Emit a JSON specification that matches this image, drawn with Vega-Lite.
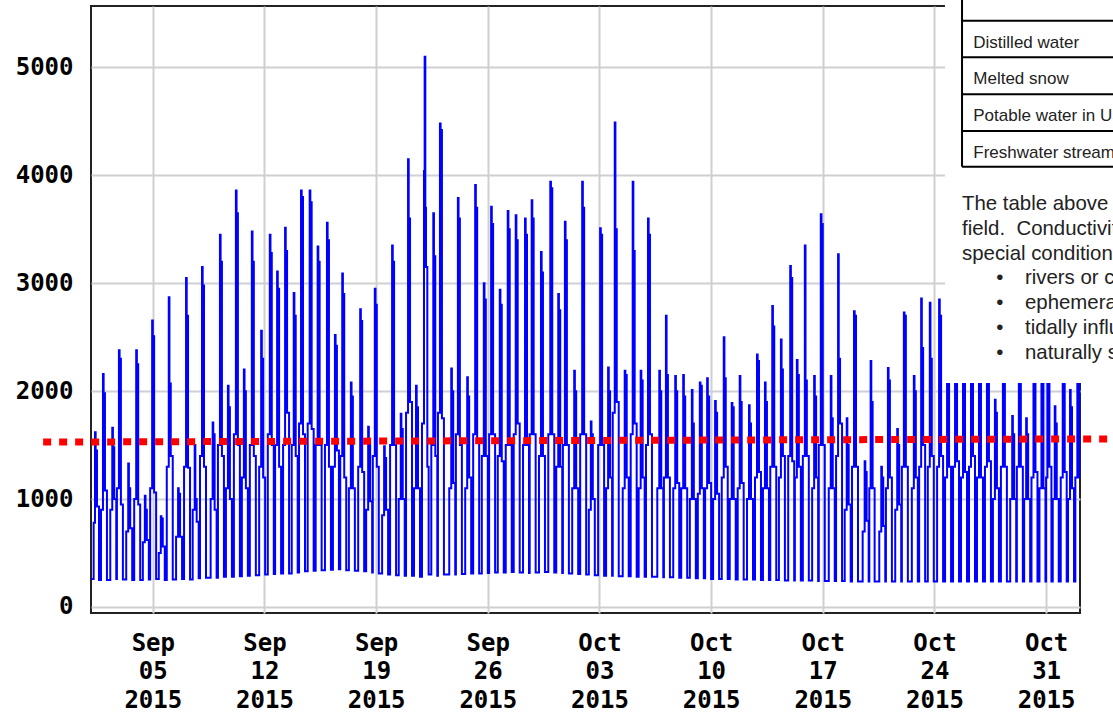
{
"$schema": "https://vega.github.io/schema/vega-lite/v6.json",
"width": 989, "height": 607,
"autosize": {"type": "none"},
"padding": {"left": 91, "top": 6, "right": 33, "bottom": 100},
"background": "white",
"config": {
  "view": {"stroke": "#222222", "strokeWidth": 2},
  "axis": {"grid": true, "gridColor": "#d0d0d0", "gridWidth": 2, "ticks": false, "domain": false, "labelFont": "DejaVu Sans Mono", "labelFontWeight": "bold", "labelFontSize": 24, "labelColor": "#000000"}
},
"layer": [
{
 "data": {"values": [
{"t":"15090100","v":260},{"t":"15090107","v":780},
{"t":"15090109","v":1620},{"t":"15090110","v":1450},{"t":"15090112","v":930},{"t":"15090115","v":250},
{"t":"15090118","v":900},{"t":"15090121","v":2160},{"t":"15090122","v":1980},{"t":"15090200","v":1080},{"t":"15090203","v":250},
{"t":"15090208","v":900},{"t":"15090211","v":1660},{"t":"15090212","v":1480},{"t":"15090214","v":1000},{"t":"15090217","v":260},
{"t":"15090218","v":1100},{"t":"15090221","v":2380},{"t":"15090222","v":2300},{"t":"15090300","v":950},{"t":"15090303","v":255},
{"t":"15090308","v":700},{"t":"15090311","v":1330},{"t":"15090312","v":1100},{"t":"15090314","v":730},{"t":"15090317","v":250},
{"t":"15090320","v":1000},{"t":"15090323","v":2380},{"t":"15090400","v":2250},{"t":"15090402","v":950},{"t":"15090405","v":250},
{"t":"15090409","v":600},{"t":"15090412","v":1030},{"t":"15090413","v":900},{"t":"15090415","v":620},{"t":"15090418","v":255},
{"t":"15090420","v":1100},{"t":"15090423","v":2655},{"t":"15090500","v":2510},{"t":"15090502","v":1060},{"t":"15090505","v":260},
{"t":"15090509","v":500},{"t":"15090512","v":840},{"t":"15090513","v":820},{"t":"15090515","v":560},{"t":"15090518","v":250},
{"t":"15090521","v":1300},{"t":"15090600","v":2870},{"t":"15090601","v":2070},{"t":"15090603","v":1400},{"t":"15090606","v":255},
{"t":"15090611","v":650},{"t":"15090614","v":1100},{"t":"15090615","v":1050},{"t":"15090617","v":650},{"t":"15090620","v":260},
{"t":"15090623","v":1300},{"t":"15090702","v":3050},{"t":"15090703","v":2700},{"t":"15090705","v":1290},{"t":"15090708","v":255},
{"t":"15090712","v":900},{"t":"15090715","v":1500},{"t":"15090716","v":1000},{"t":"15090718","v":790},{"t":"15090721","v":265},
{"t":"15090723","v":1400},{"t":"15090802","v":3150},{"t":"15090803","v":2980},{"t":"15090805","v":1300},{"t":"15090808","v":270},
{"t":"15090815","v":1000},{"t":"15090818","v":1710},{"t":"15090819","v":1600},{"t":"15090821","v":900},{"t":"15090900","v":270},
{"t":"15090902","v":1500},{"t":"15090905","v":3450},{"t":"15090906","v":3200},{"t":"15090908","v":1400},{"t":"15090911","v":280},
{"t":"15090914","v":1100},{"t":"15090917","v":2050},{"t":"15090918","v":1850},{"t":"15090920","v":1000},{"t":"15090923","v":280},
{"t":"15091002","v":1600},{"t":"15091005","v":3860},{"t":"15091006","v":3650},{"t":"15091008","v":1500},{"t":"15091011","v":285},
{"t":"15091014","v":1200},{"t":"15091017","v":2200},{"t":"15091018","v":2000},{"t":"15091020","v":1100},{"t":"15091023","v":290},
{"t":"15091102","v":1500},{"t":"15091105","v":3480},{"t":"15091106","v":3200},{"t":"15091108","v":1400},{"t":"15091111","v":295},
{"t":"15091116","v":1300},{"t":"15091119","v":2560},{"t":"15091120","v":2300},{"t":"15091122","v":1200},{"t":"15091201","v":300},
{"t":"15091205","v":1600},{"t":"15091208","v":3450},{"t":"15091209","v":3280},{"t":"15091211","v":1500},{"t":"15091214","v":305},
{"t":"15091216","v":1500},{"t":"15091219","v":3110},{"t":"15091220","v":2950},{"t":"15091222","v":1300},{"t":"15091301","v":310},
{"t":"15091304","v":1500},{"t":"15091307","v":3515},{"t":"15091308","v":3300},{"t":"15091310","v":1800},{"t":"15091313","v":310},
{"t":"15091317","v":1500},{"t":"15091320","v":2910},{"t":"15091321","v":2700},{"t":"15091323","v":1400},{"t":"15091402","v":320},
{"t":"15091404","v":1700},{"t":"15091407","v":3860},{"t":"15091408","v":3800},{"t":"15091410","v":1600},{"t":"15091413","v":330},
{"t":"15091417","v":1700},{"t":"15091420","v":3860},{"t":"15091421","v":3750},{"t":"15091423","v":1650},{"t":"15091502","v":335},
{"t":"15091505","v":1500},{"t":"15091508","v":3340},{"t":"15091509","v":3200},{"t":"15091511","v":1500},{"t":"15091514","v":340},
{"t":"15091519","v":1500},{"t":"15091522","v":3560},{"t":"15091523","v":3400},{"t":"15091601","v":1300},{"t":"15091604","v":345},
{"t":"15091607","v":1300},{"t":"15091610","v":2520},{"t":"15091611","v":2420},{"t":"15091613","v":1450},{"t":"15091616","v":350},
{"t":"15091618","v":1400},{"t":"15091621","v":3090},{"t":"15091622","v":2900},{"t":"15091700","v":1200},{"t":"15091703","v":340},
{"t":"15091707","v":1100},{"t":"15091710","v":2080},{"t":"15091711","v":1950},{"t":"15091713","v":1100},{"t":"15091716","v":335},
{"t":"15091721","v":1300},{"t":"15091800","v":2760},{"t":"15091801","v":2650},{"t":"15091803","v":1250},{"t":"15091806","v":330},
{"t":"15091809","v":900},{"t":"15091812","v":1670},{"t":"15091813","v":1500},{"t":"15091815","v":980},{"t":"15091818","v":320},
{"t":"15091819","v":1400},{"t":"15091822","v":2950},{"t":"15091823","v":2800},{"t":"15091901","v":1300},{"t":"15091904","v":310},
{"t":"15091909","v":850},{"t":"15091912","v":1490},{"t":"15091913","v":1380},{"t":"15091915","v":900},{"t":"15091918","v":300},
{"t":"15091921","v":1500},{"t":"15092000","v":3350},{"t":"15092001","v":3200},{"t":"15092003","v":1500},{"t":"15092006","v":295},
{"t":"15092010","v":1000},{"t":"15092013","v":1790},{"t":"15092014","v":1650},{"t":"15092016","v":1000},{"t":"15092019","v":290},
{"t":"15092021","v":1800},{"t":"15092100","v":4150},{"t":"15092101","v":3600},{"t":"15092103","v":1900},{"t":"15092106","v":290},
{"t":"15092109","v":1100},{"t":"15092112","v":2050},{"t":"15092113","v":1850},{"t":"15092115","v":1100},{"t":"15092118","v":280},
{"t":"15092121","v":1700},{"t":"15092200","v":4040},{"t":"15092201","v":5100},{"t":"15092202","v":3700},{"t":"15092203","v":3150},{"t":"15092205","v":1300},{"t":"15092207","v":300},
{"t":"15092211","v":1500},{"t":"15092214","v":3650},{"t":"15092215","v":3250},{"t":"15092217","v":1400},{"t":"15092220","v":290},
{"t":"15092221","v":1800},{"t":"15092300","v":4480},{"t":"15092301","v":4420},{"t":"15092303","v":1750},{"t":"15092306","v":300},
{"t":"15092314","v":1100},{"t":"15092317","v":2210},{"t":"15092318","v":2000},{"t":"15092320","v":1150},{"t":"15092323","v":300},
{"t":"15092400","v":1600},{"t":"15092403","v":3790},{"t":"15092404","v":3600},{"t":"15092406","v":1500},{"t":"15092409","v":305},
{"t":"15092414","v":1100},{"t":"15092417","v":2130},{"t":"15092418","v":1950},{"t":"15092420","v":1200},{"t":"15092423","v":310},
{"t":"15092502","v":1600},{"t":"15092505","v":3910},{"t":"15092506","v":3700},{"t":"15092508","v":1550},{"t":"15092511","v":310},
{"t":"15092515","v":1400},{"t":"15092518","v":3000},{"t":"15092519","v":2850},{"t":"15092521","v":1400},{"t":"15092600","v":315},
{"t":"15092602","v":1600},{"t":"15092605","v":3710},{"t":"15092606","v":3550},{"t":"15092608","v":1600},{"t":"15092611","v":320},
{"t":"15092615","v":1400},{"t":"15092618","v":2940},{"t":"15092619","v":2800},{"t":"15092621","v":1350},{"t":"15092700","v":320},
{"t":"15092703","v":1500},{"t":"15092706","v":3670},{"t":"15092707","v":3500},{"t":"15092709","v":1500},{"t":"15092712","v":325},
{"t":"15092715","v":1600},{"t":"15092718","v":3630},{"t":"15092719","v":3400},{"t":"15092721","v":1700},{"t":"15092800","v":320},
{"t":"15092805","v":1500},{"t":"15092808","v":3600},{"t":"15092809","v":3450},{"t":"15092811","v":1500},{"t":"15092814","v":315},
{"t":"15092815","v":1600},{"t":"15092818","v":3770},{"t":"15092819","v":3600},{"t":"15092821","v":1600},{"t":"15092900","v":320},
{"t":"15092905","v":1400},{"t":"15092908","v":3290},{"t":"15092909","v":3100},{"t":"15092911","v":1400},{"t":"15092914","v":325},
{"t":"15092919","v":1600},{"t":"15092922","v":3940},{"t":"15092923","v":3880},{"t":"15093001","v":1600},{"t":"15093004","v":320},
{"t":"15093007","v":1300},{"t":"15093010","v":2900},{"t":"15093011","v":2750},{"t":"15093013","v":1300},{"t":"15093016","v":315},
{"t":"15093017","v":1500},{"t":"15093020","v":3570},{"t":"15093021","v":3400},{"t":"15093023","v":1500},{"t":"15100102","v":310},
{"t":"15100107","v":1100},{"t":"15100110","v":2190},{"t":"15100111","v":2000},{"t":"15100113","v":1100},{"t":"15100116","v":305},
{"t":"15100119","v":1600},{"t":"15100122","v":3940},{"t":"15100123","v":3700},{"t":"15100201","v":1600},{"t":"15100204","v":300},
{"t":"15100208","v":900},{"t":"15100211","v":1720},{"t":"15100212","v":1600},{"t":"15100214","v":1000},{"t":"15100217","v":295},
{"t":"15100222","v":1500},{"t":"15100301","v":3510},{"t":"15100302","v":3450},{"t":"15100304","v":1500},{"t":"15100307","v":290},
{"t":"15100310","v":1100},{"t":"15100313","v":2220},{"t":"15100314","v":2000},{"t":"15100316","v":1200},{"t":"15100319","v":290},
{"t":"15100320","v":1800},{"t":"15100323","v":4490},{"t":"15100400","v":3500},{"t":"15100402","v":1900},{"t":"15100405","v":285},
{"t":"15100411","v":1100},{"t":"15100414","v":2190},{"t":"15100415","v":2150},{"t":"15100417","v":1200},{"t":"15100420","v":285},
{"t":"15100423","v":1600},{"t":"15100502","v":3940},{"t":"15100503","v":3300},{"t":"15100505","v":1700},{"t":"15100508","v":280},
{"t":"15100511","v":1100},{"t":"15100514","v":2190},{"t":"15100515","v":2100},{"t":"15100517","v":1200},{"t":"15100520","v":280},
{"t":"15100522","v":1500},{"t":"15100601","v":3600},{"t":"15100602","v":3450},{"t":"15100604","v":1600},{"t":"15100607","v":280},
{"t":"15100615","v":1100},{"t":"15100618","v":2190},{"t":"15100619","v":2000},{"t":"15100621","v":1100},{"t":"15100700","v":275},
{"t":"15100701","v":1200},{"t":"15100704","v":2700},{"t":"15100705","v":2150},{"t":"15100707","v":1200},{"t":"15100710","v":275},
{"t":"15100715","v":1100},{"t":"15100718","v":2140},{"t":"15100719","v":2000},{"t":"15100721","v":1150},{"t":"15100800","v":270},
{"t":"15100803","v":1100},{"t":"15100806","v":2150},{"t":"15100807","v":1950},{"t":"15100809","v":1100},{"t":"15100812","v":270},
{"t":"15100816","v":1000},{"t":"15100819","v":2010},{"t":"15100820","v":1700},{"t":"15100822","v":1000},{"t":"15100901","v":265},
{"t":"15100904","v":1050},{"t":"15100907","v":2080},{"t":"15100908","v":2050},{"t":"15100910","v":1100},{"t":"15100913","v":265},
{"t":"15100915","v":1100},{"t":"15100918","v":2120},{"t":"15100919","v":1950},{"t":"15100921","v":1150},{"t":"15101000","v":260},
{"t":"15101003","v":1000},{"t":"15101006","v":1910},{"t":"15101007","v":1800},{"t":"15101009","v":1050},{"t":"15101012","v":260},
{"t":"15101016","v":1200},{"t":"15101019","v":2500},{"t":"15101020","v":2120},{"t":"15101022","v":1300},{"t":"15101101","v":260},
{"t":"15101104","v":1000},{"t":"15101107","v":1890},{"t":"15101108","v":1850},{"t":"15101110","v":1000},{"t":"15101113","v":255},
{"t":"15101116","v":1100},{"t":"15101119","v":2140},{"t":"15101120","v":1900},{"t":"15101122","v":1150},{"t":"15101201","v":255},
{"t":"15101206","v":1000},{"t":"15101209","v":1870},{"t":"15101210","v":1700},{"t":"15101212","v":1000},{"t":"15101215","v":255},
{"t":"15101218","v":1200},{"t":"15101221","v":2340},{"t":"15101222","v":2280},{"t":"15101300","v":1250},{"t":"15101303","v":250},
{"t":"15101306","v":1100},{"t":"15101309","v":2080},{"t":"15101310","v":1900},{"t":"15101312","v":1100},{"t":"15101315","v":250},
{"t":"15101317","v":1300},{"t":"15101320","v":2790},{"t":"15101321","v":2600},{"t":"15101323","v":1300},{"t":"15101402","v":250},
{"t":"15101406","v":1200},{"t":"15101409","v":2480},{"t":"15101410","v":2200},{"t":"15101412","v":1400},{"t":"15101415","v":245},
{"t":"15101420","v":1400},{"t":"15101423","v":3160},{"t":"15101500","v":3050},{"t":"15101502","v":1350},{"t":"15101505","v":245},
{"t":"15101506","v":1200},{"t":"15101509","v":2290},{"t":"15101510","v":2150},{"t":"15101512","v":1300},{"t":"15101515","v":245},
{"t":"15101518","v":1400},{"t":"15101521","v":3350},{"t":"15101522","v":2100},{"t":"15101600","v":1400},{"t":"15101603","v":245},
{"t":"15101608","v":1100},{"t":"15101611","v":2140},{"t":"15101612","v":1950},{"t":"15101614","v":1200},{"t":"15101617","v":240},
{"t":"15101618","v":1500},{"t":"15101621","v":3640},{"t":"15101622","v":3550},{"t":"15101700","v":1500},{"t":"15101703","v":240},
{"t":"15101709","v":1100},{"t":"15101712","v":2140},{"t":"15101713","v":1750},{"t":"15101715","v":1100},{"t":"15101718","v":240},
{"t":"15101720","v":1400},{"t":"15101723","v":3270},{"t":"15101800","v":2300},{"t":"15101802","v":1700},{"t":"15101805","v":240},
{"t":"15101809","v":900},{"t":"15101812","v":1750},{"t":"15101813","v":1500},{"t":"15101815","v":950},{"t":"15101818","v":235},
{"t":"15101820","v":1300},{"t":"15101823","v":2740},{"t":"15101900","v":2700},{"t":"15101902","v":1300},{"t":"15101905","v":235},
{"t":"15101912","v":700},{"t":"15101915","v":1350},{"t":"15101916","v":1250},{"t":"15101918","v":800},{"t":"15101921","v":235},
{"t":"15101922","v":1100},{"t":"15102000","v":2280},{"t":"15102001","v":1900},{"t":"15102003","v":1100},{"t":"15102006","v":235},
{"t":"15102013","v":700},{"t":"15102016","v":1300},{"t":"15102017","v":1200},{"t":"15102019","v":750},{"t":"15102022","v":235},
{"t":"15102023","v":1100},{"t":"15102102","v":2215},{"t":"15102103","v":2100},{"t":"15102105","v":1200},{"t":"15102108","v":235},
{"t":"15102113","v":900},{"t":"15102116","v":1650},{"t":"15102117","v":1500},{"t":"15102119","v":950},{"t":"15102122","v":235},
{"t":"15102123","v":1300},{"t":"15102202","v":2730},{"t":"15102203","v":2700},{"t":"15102205","v":1300},{"t":"15102208","v":235},
{"t":"15102214","v":1100},{"t":"15102217","v":2140},{"t":"15102218","v":2000},{"t":"15102220","v":1200},{"t":"15102223","v":235},
{"t":"15102301","v":1300},{"t":"15102304","v":2860},{"t":"15102305","v":2400},{"t":"15102307","v":1500},{"t":"15102310","v":235},
{"t":"15102314","v":1300},{"t":"15102317","v":2820},{"t":"15102318","v":2300},{"t":"15102320","v":1400},{"t":"15102323","v":235},
{"t":"15102404","v":1300},{"t":"15102407","v":2850},{"t":"15102408","v":2700},{"t":"15102410","v":1400},{"t":"15102413","v":235},
{"t":"15102416","v":1200},{"t":"15102419","v":2600},{"t":"15102420","v":2400},{"t":"15102422","v":1300},{"t":"15102501","v":235},
{"t":"15102504","v":1300},{"t":"15102507","v":2800},{"t":"15102508","v":2600},{"t":"15102510","v":1350},{"t":"15102513","v":235},
{"t":"15102516","v":1200},{"t":"15102519","v":2500},{"t":"15102520","v":2300},{"t":"15102522","v":1250},{"t":"15102601","v":235},
{"t":"15102604","v":1300},{"t":"15102607","v":2900},{"t":"15102608","v":2700},{"t":"15102610","v":1400},{"t":"15102613","v":235},
{"t":"15102616","v":1200},{"t":"15102619","v":2400},{"t":"15102620","v":2250},{"t":"15102622","v":1200},{"t":"15102701","v":235},
{"t":"15102704","v":1300},{"t":"15102707","v":2800},{"t":"15102708","v":2600},{"t":"15102710","v":1350},{"t":"15102713","v":235},
{"t":"15102716","v":1000},{"t":"15102719","v":1920},{"t":"15102720","v":1800},{"t":"15102722","v":1100},{"t":"15102801","v":235},
{"t":"15102804","v":1300},{"t":"15102807","v":2700},{"t":"15102808","v":2500},{"t":"15102810","v":1300},{"t":"15102813","v":235},
{"t":"15102818","v":1000},{"t":"15102821","v":1770},{"t":"15102822","v":1600},{"t":"15102900","v":1000},{"t":"15102903","v":235},
{"t":"15102904","v":1300},{"t":"15102907","v":2600},{"t":"15102908","v":2450},{"t":"15102910","v":1300},{"t":"15102913","v":235},
{"t":"15102915","v":1000},{"t":"15102918","v":1750},{"t":"15102919","v":1600},{"t":"15102921","v":1000},{"t":"15103000","v":235},
{"t":"15103002","v":1200},{"t":"15103005","v":2500},{"t":"15103006","v":2350},{"t":"15103008","v":1250},{"t":"15103011","v":235},
{"t":"15103014","v":1100},{"t":"15103017","v":2300},{"t":"15103018","v":2150},{"t":"15103020","v":1100},{"t":"15103023","v":235},
{"t":"15103100","v":1200},{"t":"15103102","v":2600},{"t":"15103103","v":2400},{"t":"15103105","v":1300},{"t":"15103108","v":235},
{"t":"15103110","v":1000},{"t":"15103113","v":1860},{"t":"15103114","v":1700},{"t":"15103116","v":1000},{"t":"15103119","v":235},
{"t":"15103122","v":1200},{"t":"15110101","v":2500},{"t":"15110102","v":2350},{"t":"15110104","v":1250},{"t":"15110107","v":235},
{"t":"15110109","v":1000},{"t":"15110112","v":2010},{"t":"15110113","v":1850},{"t":"15110115","v":1100},{"t":"15110118","v":235},
{"t":"15110120","v":1200},{"t":"15110123","v":2400},{"t":"15110200","v":2250},{"t":"15110202","v":1200},{"t":"15110205","v":235},
{"t":"15110207","v":1000},{"t":"15110210","v":2000},{"t":"15110211","v":1850}
 ], "format": {"parse": {"t": "date:'%y%m%d%H'"}}},
 "mark": {"type": "line", "interpolate": "step-after", "color": "#0000ff", "strokeWidth": 2, "clip": true},
 "encoding": {
  "x": {"field": "t", "type": "temporal", "title": null,
   "scale": {"domain": [{"year": 2015, "month": 9, "date": 1, "hours": 3}, {"year": 2015, "month": 11, "date": 2, "hours": 3}]},
   "axis": {"values": [{"year": 2015, "month": 9, "date": 5}, {"year": 2015, "month": 9, "date": 12}, {"year": 2015, "month": 9, "date": 19}, {"year": 2015, "month": 9, "date": 26}, {"year": 2015, "month": 10, "date": 3}, {"year": 2015, "month": 10, "date": 10}, {"year": 2015, "month": 10, "date": 17}, {"year": 2015, "month": 10, "date": 24}, {"year": 2015, "month": 10, "date": 31}],
    "labelExpr": "[timeFormat(datum.value, '%b'), timeFormat(datum.value, '%d'), timeFormat(datum.value, '%Y')]",
    "labelLineHeight": 28.5, "labelPadding": 18, "labelBaseline": "top", "labelAngle": 0, "labelFlush": false, "labelOverlap": false, "labelBound": false}},
  "y": {"field": "v", "type": "quantitative", "title": null,
   "scale": {"domain": [-56, 5570], "nice": false, "zero": false},
   "axis": {"values": [0, 1000, 2000, 3000, 4000, 5000], "format": "d", "labelPadding": 18, "labelOverlap": false, "labelBound": false, "labelFlush": false}}
 }
},
{
 "data": {"values": [{"t1": "15082903", "t2": "15110404", "v1": 1528, "v2": 1558}], "format": {"parse": {"t1": "date:'%y%m%d%H'", "t2": "date:'%y%m%d%H'"}}},
 "mark": {"type": "rule", "color": "#ff0000", "strokeWidth": 7, "strokeDash": [8, 8], "strokeCap": "butt", "clip": false},
 "encoding": {"x": {"field": "t1", "type": "temporal", "title": null}, "x2": {"field": "t2"}, "y": {"field": "v1", "type": "quantitative", "title": null}, "y2": {"field": "v2"}}
},
{
 "data": {"values": [{}]},
 "mark": {"type": "rect", "fill": "#ffffff", "clip": false},
 "encoding": {
  "x": {"datum": {"year": 2015, "month": 10, "date": 24, "hours": 15, "minutes": 50}, "type": "temporal", "title": null},
  "x2": {"datum": {"year": 2015, "month": 11, "date": 10}},
  "y": {"datum": 2076, "type": "quantitative", "title": null},
  "y2": {"datum": 6500}
 }
},
{
 "data": {"values": [{}]},
 "mark": {"type": "rule", "color": "#000000", "strokeWidth": 2, "clip": false},
 "encoding": {
  "x": {"datum": {"year": 2015, "month": 10, "date": 25, "hours": 17, "minutes": 30}, "type": "temporal", "title": null},
  "y": {"datum": 4080, "type": "quantitative", "title": null},
  "y2": {"datum": 6500}
 }
},
{
 "data": {"values": [{}]},
 "mark": {"type": "rule", "color": "#000000", "strokeWidth": 2, "clip": false},
 "encoding": {
  "x": {"datum": {"year": 2015, "month": 10, "date": 25, "hours": 17, "minutes": 30}, "type": "temporal", "title": null},
  "x2": {"datum": {"year": 2015, "month": 11, "date": 10}},
  "y": {"datum": 5434, "type": "quantitative", "title": null}
 }
},
{
 "data": {"values": [{}]},
 "mark": {"type": "rule", "color": "#000000", "strokeWidth": 2, "clip": false},
 "encoding": {
  "x": {"datum": {"year": 2015, "month": 10, "date": 25, "hours": 17, "minutes": 30}, "type": "temporal", "title": null},
  "x2": {"datum": {"year": 2015, "month": 11, "date": 10}},
  "y": {"datum": 5094, "type": "quantitative", "title": null}
 }
},
{
 "data": {"values": [{}]},
 "mark": {"type": "rule", "color": "#000000", "strokeWidth": 2, "clip": false},
 "encoding": {
  "x": {"datum": {"year": 2015, "month": 10, "date": 25, "hours": 17, "minutes": 30}, "type": "temporal", "title": null},
  "x2": {"datum": {"year": 2015, "month": 11, "date": 10}},
  "y": {"datum": 4752, "type": "quantitative", "title": null}
 }
},
{
 "data": {"values": [{}]},
 "mark": {"type": "rule", "color": "#000000", "strokeWidth": 2, "clip": false},
 "encoding": {
  "x": {"datum": {"year": 2015, "month": 10, "date": 25, "hours": 17, "minutes": 30}, "type": "temporal", "title": null},
  "x2": {"datum": {"year": 2015, "month": 11, "date": 10}},
  "y": {"datum": 4411, "type": "quantitative", "title": null}
 }
},
{
 "data": {"values": [{}]},
 "mark": {"type": "rule", "color": "#000000", "strokeWidth": 2, "clip": false},
 "encoding": {
  "x": {"datum": {"year": 2015, "month": 10, "date": 25, "hours": 17, "minutes": 30}, "type": "temporal", "title": null},
  "x2": {"datum": {"year": 2015, "month": 11, "date": 10}},
  "y": {"datum": 4080, "type": "quantitative", "title": null}
 }
},
{
 "data": {"values": [{}]},
 "mark": {"type": "text", "text": ["Distilled water", "Melted snow", "Potable water in US", "Freshwater streams"], "align": "left", "baseline": "alphabetic", "font": "Liberation Sans", "fontSize": 17, "lineHeight": 36.7, "fill": "#222222", "clip": false},
 "encoding": {
  "x": {"datum": {"year": 2015, "month": 10, "date": 26, "hours": 10, "minutes": 25}, "type": "temporal", "title": null},
  "y": {"datum": 5183, "type": "quantitative", "title": null}
 }
},
{
 "data": {"values": [{}]},
 "mark": {"type": "text", "text": ["The table above shows", "field.\u00a0 Conductivity", "special conditions"], "align": "left", "baseline": "alphabetic", "font": "Liberation Sans", "fontSize": 20.4, "lineHeight": 24.75, "fill": "#222222", "clip": false},
 "encoding": {
  "x": {"datum": {"year": 2015, "month": 10, "date": 25, "hours": 17, "minutes": 30}, "type": "temporal", "title": null},
  "y": {"datum": 3679, "type": "quantitative", "title": null}
 }
},
{
 "data": {"values": [{}]},
 "mark": {"type": "text", "text": ["\u2022", "\u2022", "\u2022", "\u2022"], "align": "center", "baseline": "alphabetic", "font": "Liberation Sans", "fontSize": 20.4, "lineHeight": 24.75, "fill": "#222222", "clip": false},
 "encoding": {
  "x": {"datum": {"year": 2015, "month": 10, "date": 28, "hours": 2, "minutes": 10}, "type": "temporal", "title": null},
  "y": {"datum": 2991, "type": "quantitative", "title": null}
 }
},
{
 "data": {"values": [{}]},
 "mark": {"type": "text", "text": ["rivers or creeks", "ephemeral streams", "tidally influenced", "naturally saline"], "align": "left", "baseline": "alphabetic", "font": "Liberation Sans", "fontSize": 20.4, "lineHeight": 24.75, "fill": "#222222", "clip": false},
 "encoding": {
  "x": {"datum": {"year": 2015, "month": 10, "date": 29, "hours": 16, "minutes": 12}, "type": "temporal", "title": null},
  "y": {"datum": 2991, "type": "quantitative", "title": null}
 }
}
]
}
